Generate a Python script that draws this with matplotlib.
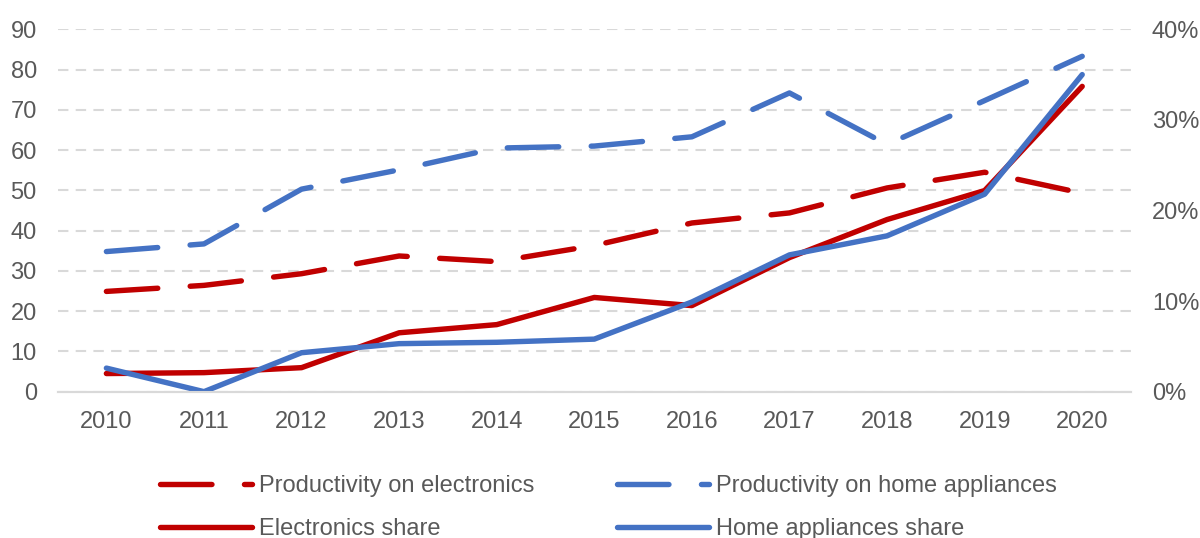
import matplotlib
matplotlib.use("Agg")
from matplotlib import pyplot as plt
from matplotlib.ticker import PercentFormatter

plt.rcParams['font.family'] = ['Liberation Sans', 'DejaVu Sans']

years = [2010, 2011, 2012, 2013, 2014, 2015, 2016, 2017, 2018, 2019, 2020]

# left axis
prod_electronics = [24.9, 26.4, 29.3, 33.7, 32.3, 36.3, 41.9, 44.4, 50.6, 54.5, 49.3]
prod_home = [34.8, 36.7, 50.3, 55.1, 60.5, 61.0, 63.3, 74.2, 61.4, 72.3, 83.3]

# right axis (%)
share_electronics = [2.0, 2.1, 2.65, 6.5, 7.4, 10.4, 9.5, 14.8, 19.0, 22.2, 33.7]
share_home = [2.6, 0.0, 4.3, 5.3, 5.45, 5.8, 9.9, 15.1, 17.2, 21.8, 35.0]

RED = "#c00000"
BLUE = "#4472c4"
TXT = "#595959"
GRID = "#d9d9d9"
FS = 17
LW = 3.9
DASH = (9.5, 6)

fig = plt.figure(figsize=(12, 5.38), dpi=100)
ax = fig.add_axes([0.048, 0.272, 0.8945, 0.6735])
ax2 = ax.twinx()

x = range(len(years))

l1, = ax.plot(x, prod_electronics, color=RED, lw=LW, dashes=DASH,
              dash_capstyle='round', solid_capstyle='round',
              label="Productivity on electronics")
l3, = ax.plot(x, prod_home, color=BLUE, lw=LW, dashes=DASH,
              dash_capstyle='round', solid_capstyle='round',
              label="Productivity on home appliances")
l2, = ax2.plot(x, share_electronics, color=RED, lw=LW,
               solid_capstyle='round', label="Electronics share")
l4, = ax2.plot(x, share_home, color=BLUE, lw=LW,
               solid_capstyle='round', label="Home appliances share")

ax.set_xlim(-0.5, len(years) - 0.5)
ax.set_ylim(0, 90)
ax.set_yticks(range(0, 91, 10))
ax2.set_ylim(0, 40)
ax2.set_yticks(range(0, 41, 10))
ax2.yaxis.set_major_formatter(PercentFormatter(decimals=0))

ax.set_xticks(list(x))
ax.set_xticklabels([str(y) for y in years])

ax.yaxis.grid(True, color=GRID, lw=1.5, dashes=(5, 3.5))
ax.set_axisbelow(True)

for a in (ax, ax2):
    for s in ('top', 'left', 'right'):
        a.spines[s].set_visible(False)
    a.spines['bottom'].set_color(GRID)
    a.spines['bottom'].set_linewidth(1.5)
    a.tick_params(length=0, labelsize=FS, colors=TXT)
ax.tick_params(axis='x', pad=14)
ax.tick_params(axis='y', pad=15)
ax2.tick_params(axis='y', pad=15)

leg = fig.legend([l1, l2, l3, l4],
                 [l.get_label() for l in (l1, l2, l3, l4)],
                 loc='lower left', bbox_to_anchor=(0.1333, -0.004),
                 borderaxespad=0, borderpad=0,
                 ncol=2, frameon=False, fontsize=FS, handlelength=3.9,
                 handletextpad=0.3, columnspacing=3.5, labelspacing=0.9,
                 labelcolor=TXT)

fig.savefig("out.png", dpi=100)
